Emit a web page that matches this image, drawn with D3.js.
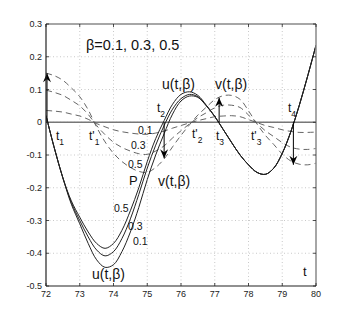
<!DOCTYPE html>
<html><head><meta charset="utf-8">
<script src="https://cdn.jsdelivr.net/npm/d3@7/dist/d3.min.js"></script>
<style>body{margin:0;background:#fff}svg{display:block}text{font-family:"Liberation Sans",Arial,sans-serif}</style>
</head><body><div id="chart"></div>
<script>
const tValues = [72,72.25,72.5,72.75,73,73.25,73.5,73.75,74,74.25,74.5,74.75,75,75.25,75.5,75.75,76,76.25,76.5,76.75,77,77.25,77.5,77.75,78,78.25,78.5,78.75,79,79.25,79.5,79.75,80];
// u(t,beta) solid curves
const uBeta05 = [0.02,-0.08,-0.17,-0.24,-0.29,-0.335,-0.37,-0.385,-0.37,-0.33,-0.27,-0.2,-0.12,-0.05,0.005,0.055,0.085,0.093,0.082,0.052,0.018,-0.022,-0.062,-0.1,-0.13,-0.153,-0.159,-0.14,-0.095,-0.03,0.05,0.14,0.235];
const uBeta03 = [0.02,-0.08,-0.17,-0.245,-0.3,-0.35,-0.39,-0.408,-0.395,-0.355,-0.295,-0.22,-0.14,-0.07,-0.01,0.04,0.072,0.085,0.078,0.051,0.018,-0.022,-0.062,-0.1,-0.13,-0.153,-0.159,-0.14,-0.095,-0.03,0.05,0.14,0.235];
const uBeta01 = [0.02,-0.08,-0.17,-0.25,-0.31,-0.37,-0.42,-0.443,-0.435,-0.395,-0.335,-0.26,-0.175,-0.1,-0.035,0.025,0.065,0.08,0.076,0.05,0.017,-0.022,-0.062,-0.1,-0.13,-0.153,-0.159,-0.14,-0.095,-0.03,0.05,0.14,0.235];
// v(t,beta) dashed curves
const vBeta05 = [0.15,0.142,0.128,0.105,0.078,0.038,-0.015,-0.06,-0.095,-0.12,-0.138,-0.15,-0.153,-0.138,-0.112,-0.075,-0.04,-0.008,0.022,0.046,0.069,0.081,0.082,0.07,0.035,-0.005,-0.04,-0.068,-0.097,-0.118,-0.128,-0.13,-0.125];
const vBeta03 = [0.098,0.091,0.082,0.067,0.05,0.024,-0.01,-0.038,-0.061,-0.077,-0.088,-0.096,-0.098,-0.088,-0.072,-0.048,-0.026,-0.005,0.014,0.029,0.044,0.052,0.052,0.045,0.022,-0.003,-0.026,-0.044,-0.062,-0.076,-0.082,-0.083,-0.08];
const vBeta01 = [0.036,0.034,0.031,0.025,0.019,0.009,-0.004,-0.014,-0.023,-0.029,-0.033,-0.036,-0.037,-0.033,-0.027,-0.018,-0.01,-0.002,0.005,0.011,0.017,0.019,0.02,0.017,0.008,-0.001,-0.01,-0.016,-0.023,-0.028,-0.031,-0.031,-0.03];
// arrows: t position and v value at the tip
const arrowT = [72.03, 75.5, 77.13, 79.33];
const arrowV = [0.15, -0.11, 0.075, -0.13];
const xTicks = [72,73,74,75,76,77,78,79,80];
const yTicks = [-0.5,-0.4,-0.3,-0.2,-0.1,0,0.1,0.2,0.3];

const W = 349, H = 322;
const L = 46, R = 316, T = 24, B = 286;
const svg = d3.select('#chart').append('svg').attr('width', W).attr('height', H);
svg.append('rect').attr('width', W).attr('height', H).attr('fill', '#fff');
const x = d3.scaleLinear().domain([72, 80]).range([L, R]);
const y = d3.scaleLinear().domain([-0.5, 0.3]).range([B, T]);

// grid
const grid = svg.append('g').attr('stroke', '#bbb').attr('stroke-width', 0.8).attr('stroke-dasharray', '1,2.5');
xTicks.slice(1, -1).forEach(t => grid.append('line').attr('x1', x(t)).attr('x2', x(t)).attr('y1', T).attr('y2', B));
yTicks.slice(1, -1).forEach(v => grid.append('line').attr('y1', y(v)).attr('y2', y(v)).attr('x1', L).attr('x2', R));

// zero line
svg.append('line').attr('x1', L).attr('x2', R).attr('y1', y(0)).attr('y2', y(0)).attr('stroke', '#777').attr('stroke-width', 1.3);

svg.append('defs').append('clipPath').attr('id', 'clip').append('rect').attr('x', L).attr('y', T).attr('width', R - L).attr('height', B - T);
const plot = svg.append('g').attr('clip-path', 'url(#clip)');
const line = d3.line().x((d, i) => x(tValues[i])).y(d => y(d)).curve(d3.curveCatmullRom.alpha(0.5));

[vBeta01, vBeta03, vBeta05].forEach(s => plot.append('path').attr('d', line(s)).attr('fill', 'none').attr('stroke', '#555').attr('stroke-width', 0.9).attr('stroke-dasharray', '6,4'));
[uBeta01, uBeta03, uBeta05].forEach(s => plot.append('path').attr('d', line(s)).attr('fill', 'none').attr('stroke', '#222').attr('stroke-width', 1));

// arrows
svg.select('defs').append('marker').attr('id', 'ah').attr('viewBox', '-10 -5 12 10').attr('refX', 0).attr('refY', 0)
  .attr('markerWidth', 12).attr('markerHeight', 10).attr('markerUnits', 'userSpaceOnUse').attr('orient', 'auto')
  .append('path').attr('d', 'M0,0 L-9,-4 L-6,0 L-9,4 Z').attr('fill', '#000');
arrowT.forEach((t, i) => svg.append('line').attr('x1', x(t)).attr('x2', x(t)).attr('y1', y(0)).attr('y2', y(arrowV[i]))
  .attr('stroke', '#000').attr('stroke-width', 1).attr('marker-end', 'url(#ah)'));

// frame
svg.append('line').attr('x1', L).attr('x2', R).attr('y1', T).attr('y2', T).attr('stroke', '#888').attr('stroke-width', 1.5);
svg.append('line').attr('x1', R).attr('x2', R).attr('y1', T).attr('y2', B).attr('stroke', '#888').attr('stroke-width', 1.5);
svg.append('line').attr('x1', L).attr('x2', L).attr('y1', T).attr('y2', B).attr('stroke', '#222').attr('stroke-width', 1.2);
svg.append('line').attr('x1', L).attr('x2', R).attr('y1', B).attr('y2', B).attr('stroke', '#222').attr('stroke-width', 1.2);

// ticks
const tk = svg.append('g').attr('stroke', '#222').attr('stroke-width', 0.8);
xTicks.forEach(t => { tk.append('line').attr('x1', x(t)).attr('x2', x(t)).attr('y1', B).attr('y2', B - 3); tk.append('line').attr('x1', x(t)).attr('x2', x(t)).attr('y1', T).attr('y2', T + 3); });
yTicks.forEach(v => { tk.append('line').attr('y1', y(v)).attr('y2', y(v)).attr('x1', L).attr('x2', L + 3); tk.append('line').attr('y1', y(v)).attr('y2', y(v)).attr('x1', R).attr('x2', R - 3); });
svg.append('g').selectAll('text').data(xTicks).join('text').attr('x', d => x(d)).attr('y', B + 11).attr('text-anchor', 'middle')
  .attr('font-size', 9).attr('fill', '#222').text(d => d);
svg.append('g').selectAll('text').data(yTicks).join('text').attr('x', L - 4).attr('y', d => y(d) + 3).attr('text-anchor', 'end')
  .attr('font-size', 9).attr('fill', '#222').text(d => d === 0 ? '0' : d.toFixed(1));

// annotations
function label(px, py, txt, size) { return svg.append('text').attr('x', px).attr('y', py).attr('font-size', size).attr('fill', '#111').text(txt); }
label(86, 49.5, 'β=0.1, 0.3, 0.5', 14.5);
label(162, 89, 'u(t,β)', 14);
label(215, 89, 'v(t,β)', 14);
label(158, 186, 'v(t,β)', 14);
label(92, 279, 'u(t,β)', 14);
label(129, 185, 'P', 13);
label(303, 276, 't', 13);
label(138, 134, '0.1', 10.5);
label(131, 148.5, '0.3', 10.5);
label(128, 168, '0.5', 10.5);
label(114, 212, '0.5', 10.5);
label(128, 230, '0.3', 10.5);
label(133, 245, '0.1', 10.5);
function tlab(px, py, prime, sub) {
  const t = svg.append('text').attr('x', px).attr('y', py).attr('font-size', 12).attr('fill', '#111');
  t.append('tspan').text(prime ? "t'" : 't');
  t.append('tspan').attr('font-size', 8.5).attr('dy', 5).text(sub);
}
tlab(56, 140, false, '1');
tlab(89, 140, true, '1');
tlab(157, 112, false, '2');
tlab(192, 138, true, '2');
tlab(216, 140, false, '3');
tlab(251, 140, true, '3');
tlab(288, 112, false, '4');
</script></body></html>
